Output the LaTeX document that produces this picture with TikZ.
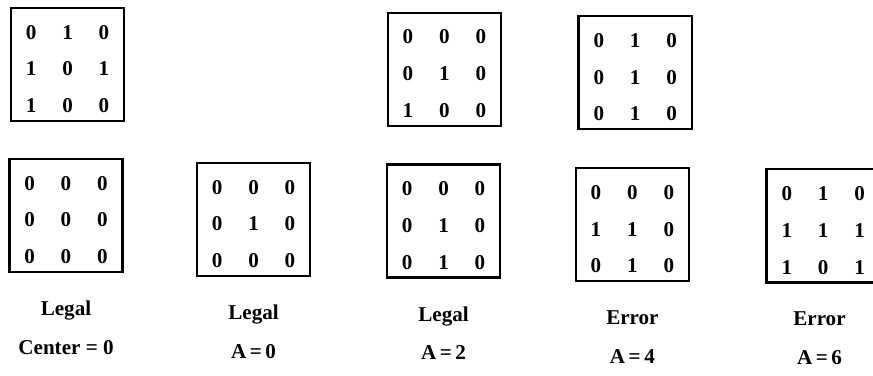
\documentclass[tikz,border=0pt]{standalone}
\usepackage{fontspec}
\setmainfont{Liberation Serif}
\usetikzlibrary{matrix,positioning}
\tikzset{
  bitgrid/.style={matrix of nodes, draw, line width=1.6pt,
    inner xsep=0.37cm, inner ysep=0.21cm,
    column sep=0.64cm, row sep=0.35cm,
    nodes={inner sep=0pt, minimum width=0.27cm, text height=0.57cm,
      text depth=0pt, font=\fontsize{15}{17}\selectfont\bfseries}},
  lab/.style={inner sep=0pt, text height=10pt, text depth=3pt,
    font=\fontsize{15}{17}\selectfont\bfseries}
}
\begin{document}
\begin{tikzpicture}
  \useasboundingbox (0,0) rectangle (21.825,9.375);
  % upper windows
  \matrix (up1) [bitgrid] at (1.69,7.76) {
    0 & 1 & 0 \\
    1 & 0 & 1 \\
    1 & 0 & 0 \\
  };
  \matrix (up3) [bitgrid] at (11.11,7.64) {
    0 & 0 & 0 \\
    0 & 1 & 0 \\
    1 & 0 & 0 \\
  };
  \matrix (up4) [bitgrid] at (15.88,7.56) {
    0 & 1 & 0 \\
    0 & 1 & 0 \\
    0 & 1 & 0 \\
  };
  % lower windows
  \matrix (w1) [bitgrid] at (1.65,3.99) {
    0 & 0 & 0 \\
    0 & 0 & 0 \\
    0 & 0 & 0 \\
  };
  \matrix (w2) [bitgrid] at (6.34,3.89) {
    0 & 0 & 0 \\
    0 & 1 & 0 \\
    0 & 0 & 0 \\
  };
  \matrix (w3) [bitgrid] at (11.09,3.85) {
    0 & 0 & 0 \\
    0 & 1 & 0 \\
    0 & 1 & 0 \\
  };
  \matrix (w4) [bitgrid] at (15.81,3.76) {
    0 & 0 & 0 \\
    1 & 1 & 0 \\
    0 & 1 & 0 \\
  };
  \matrix (w5) [bitgrid] at (20.58,3.73) {
    0 & 1 & 0 \\
    1 & 1 & 1 \\
    1 & 0 & 1 \\
  };
  % labels
  \node (s1) [lab, below=0.7cm of w1] {Legal};
  \node (a1) [lab, below=0.5cm of s1] {Center = 0};
  \node (s2) [lab, below=0.7cm of w2] {Legal};
  \node (a2) [lab, below=0.5cm of s2] {A\,=\,0};
  \node (s3) [lab, below=0.7cm of w3] {Legal};
  \node (a3) [lab, below=0.5cm of s3] {A\,=\,2};
  \node (s4) [lab, below=0.7cm of w4] {Error};
  \node (a4) [lab, below=0.5cm of s4] {A\,=\,4};
  \node (s5) [lab, below=0.7cm of w5.south west, xshift=1.35cm] {Error};
  \node (a5) [lab, below=0.5cm of s5] {A\,=\,6};
\end{tikzpicture}
\end{document}
